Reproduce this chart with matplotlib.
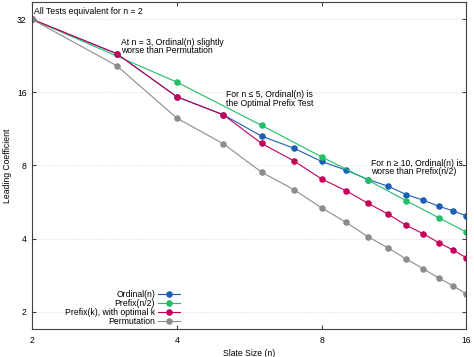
import matplotlib
matplotlib.use("Agg")
import matplotlib.pyplot as plt
from matplotlib.ticker import FixedLocator, FixedFormatter, NullLocator

plt.rcParams['font.family'] = ['Liberation Sans', 'DejaVu Sans']

# slate sizes
n_all = [2, 3, 4, 5, 6, 7, 8, 9, 10, 11, 12, 13, 14, 15, 16]
n_even = [2, 4, 6, 8, 10, 12, 14, 16]

ordinal = [32, 23.1, 15.35, 12.93, 10.57, 9.43, 8.31, 7.65, 7.0, 6.57, 6.07, 5.76, 5.44, 5.20, 4.96]
prefix_half = [32, 17.64, 11.70, 8.68, 6.95, 5.72, 4.88, 4.25]
prefix_opt = [32, 23.1, 15.35, 12.93, 9.86, 8.36, 7.04, 6.29, 5.58, 5.04, 4.53, 4.19, 3.85, 3.59, 3.33]
permutation = [32, 20.6, 12.54, 9.82, 7.51, 6.37, 5.35, 4.66, 4.06, 3.66, 3.29, 3.01, 2.75, 2.56, 2.36]

labels = ['Ordinal(n)', 'Prefix(n/2)', 'Prefix(k), with optimal k', 'Permutation']
colors = ['#1a5fb4', '#1fbf66', '#c4005a', '#8c8c8c']

xticks = [2, 4, 8, 16]
xtick_labels = ['2', '4', '8', '16']
yticks = [2, 4, 8, 16, 32]
ytick_labels = ['2', '4', '8', '16', '32']

fig = plt.figure(figsize=(4.74, 3.57), dpi=100)
ax = fig.add_axes([32 / 474, 28 / 357, 434.5 / 474, 327 / 357])

series = [(n_all, ordinal), (n_even, prefix_half), (n_all, prefix_opt), (n_all, permutation)]
for (xs, ys), lab, c in zip(series, labels, colors):
    ax.plot(xs, ys, color=c, lw=0.8, marker='o', ms=3.7, mec=c, mfc=c, label=lab)

ax.set_xscale('log', base=2)
ax.set_yscale('log', base=2)
ax.set_xlim(2, 16)
ax.set_ylim(1.697, 37.7)

ax.xaxis.set_major_locator(FixedLocator(xticks))
ax.xaxis.set_major_formatter(FixedFormatter(xtick_labels))
ax.yaxis.set_major_locator(FixedLocator(yticks))
ax.yaxis.set_major_formatter(FixedFormatter(ytick_labels))
ax.xaxis.set_minor_locator(NullLocator())
ax.yaxis.set_minor_locator(NullLocator())

ax.tick_params(which='both', direction='in', top=True, right=True, length=3,
               width=0.8, labelsize=6.2, color='#404040')
ax.tick_params(axis='x', pad=5)
ax.tick_params(axis='y', pad=4)
ax.yaxis.grid(True, linestyle=':', color='#d8d8d8', linewidth=0.6)
ax.set_axisbelow(True)
for s in ax.spines.values():
    s.set_color('#404040')
    s.set_linewidth(0.8)

ax.set_xlabel('Slate Size (n)', fontsize=6.2, labelpad=3)
ax.set_ylabel('Leading Coefficient', fontsize=6.2, labelpad=3.5)

# annotations
ax.text(2.02, 34.4, 'All Tests equivalent for n = 2', fontsize=6.2, va='center', ha='left')
ax.text(3.058, 24.7, 'At n = 3, Ordinal(n) slightly\nworse than Permutation',
        fontsize=6.2, va='center', ha='left', linespacing=0.95)
ax.text(5.06, 15.07, 'For n \u2264 5, Ordinal(n) is\nthe Optimal Prefix Test',
        fontsize=6.2, va='center', ha='left', linespacing=0.95)
ax.text(10.12, 7.84, 'For n \u2265 10, Ordinal(n) is\nworse than Prefix(n/2)',
        fontsize=6.2, va='center', ha='left', linespacing=0.95)

ax.legend(loc='lower right', bbox_to_anchor=(180 / 474, 31 / 357),
          bbox_transform=fig.transFigure, frameon=False, markerfirst=False,
          fontsize=6.2, handlelength=2.6, handletextpad=0.3, labelspacing=0.0,
          borderpad=0, borderaxespad=0)

fig.savefig('out.png', dpi=100)
